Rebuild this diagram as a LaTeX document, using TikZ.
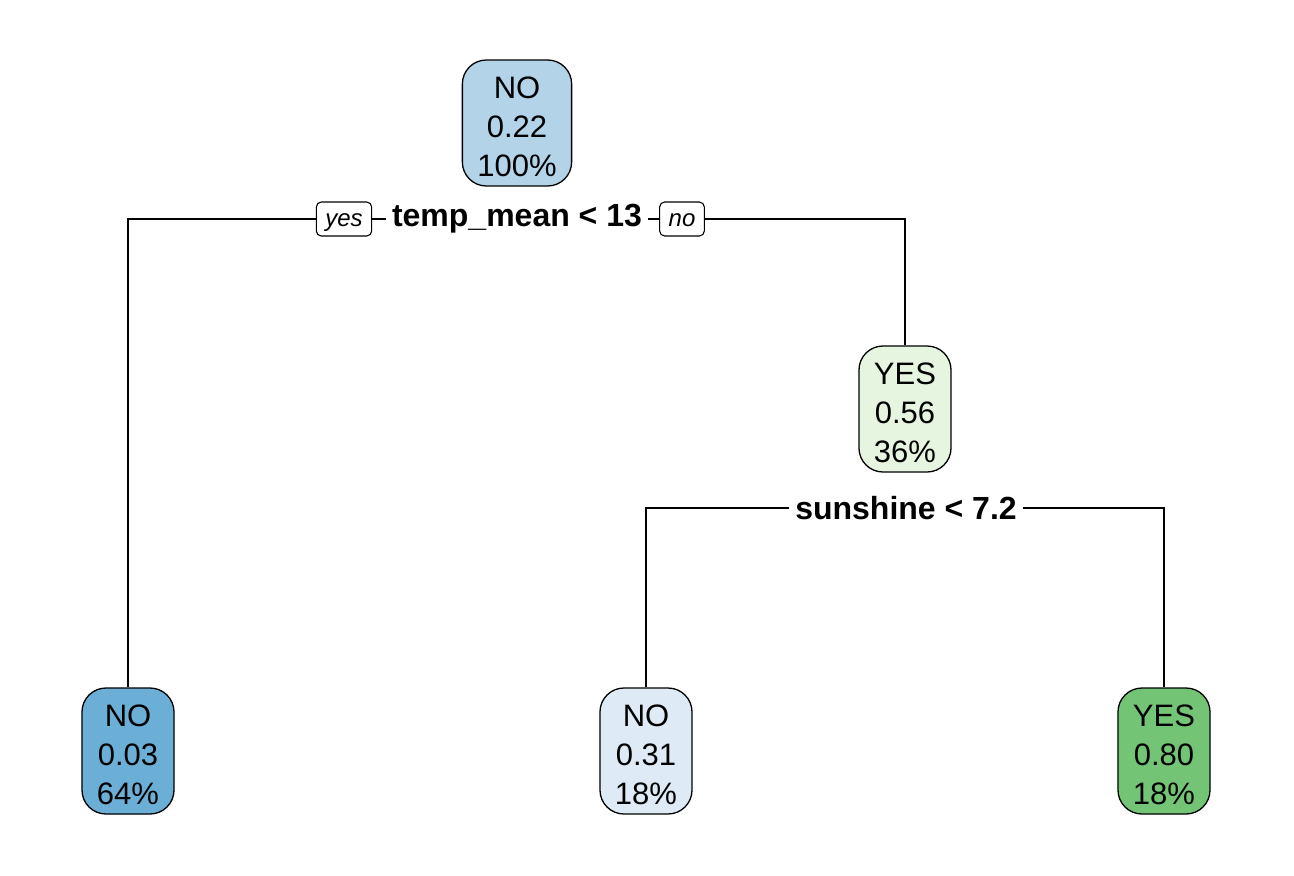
\documentclass[tikz,border=0pt]{standalone}
\usepackage{fontspec}
\setmainfont{Liberation Sans}
\usetikzlibrary{positioning}
\definecolor{blueroot}{HTML}{B3D3E8}
\definecolor{bluedark}{HTML}{6BAED6}
\definecolor{bluelight}{HTML}{DEEBF7}
\definecolor{greenlight}{HTML}{E5F5E0}
\definecolor{greendark}{HTML}{74C476}
\newcommand{\topgap}{\rule{0pt}{29pt}}

\begin{document}
\begin{tikzpicture}[x=1pt, y=-1pt,
  leaf/.style={draw, rounded corners=24pt, align=center, line width=1.3pt,
               font=\fontsize{31}{39}\selectfont, minimum height=126pt, inner xsep=15pt},
  split/.style={font=\fontsize{32}{37}\selectfont\bfseries, inner xsep=6pt, inner ysep=2pt},
  tag/.style={draw, rounded corners=5pt, line width=1.1pt, font=\fontsize{24}{28}\selectfont\itshape,
              minimum height=34pt, inner xsep=9pt, inner ysep=0pt, text height=18pt, text depth=4pt},
  edge/.style={line width=1.3pt}]
\useasboundingbox (0,0) rectangle (1294,876);
% nodes
\node[leaf, fill=blueroot] (root) at (517,123) {\topgap NO\\0.22\\100\%};
\node[split] (s1) at (517,219) {temp\_mean < 13};
\node[tag] (yes) at (344,219) {yes};
\node[tag] (no) at (682,219) {no};
\node[leaf, fill=greenlight] (n3) at (905,409) {\topgap YES\\0.56\\36\%};
\node[split] (s3) at (906,508) {sunshine < 7.2};
\node[leaf, fill=bluedark] (n2) at (128,751) {\topgap NO\\0.03\\64\%};
\node[leaf, fill=bluelight] (n6) at (646,751) {\topgap NO\\0.31\\18\%};
\node[leaf, fill=greendark] (n7) at (1164,751) {\topgap YES\\0.80\\18\%};
% branches
\draw[edge] (s1.west) -- (yes.east);
\draw[edge] (yes.west) -| (n2.north);
\draw[edge] (s1.east) -- (no.west);
\draw[edge] (no.east) -| (n3.north);
\draw[edge] (s3.west) -| (n6.north);
\draw[edge] (s3.east) -| (n7.north);
\end{tikzpicture}
\end{document}
